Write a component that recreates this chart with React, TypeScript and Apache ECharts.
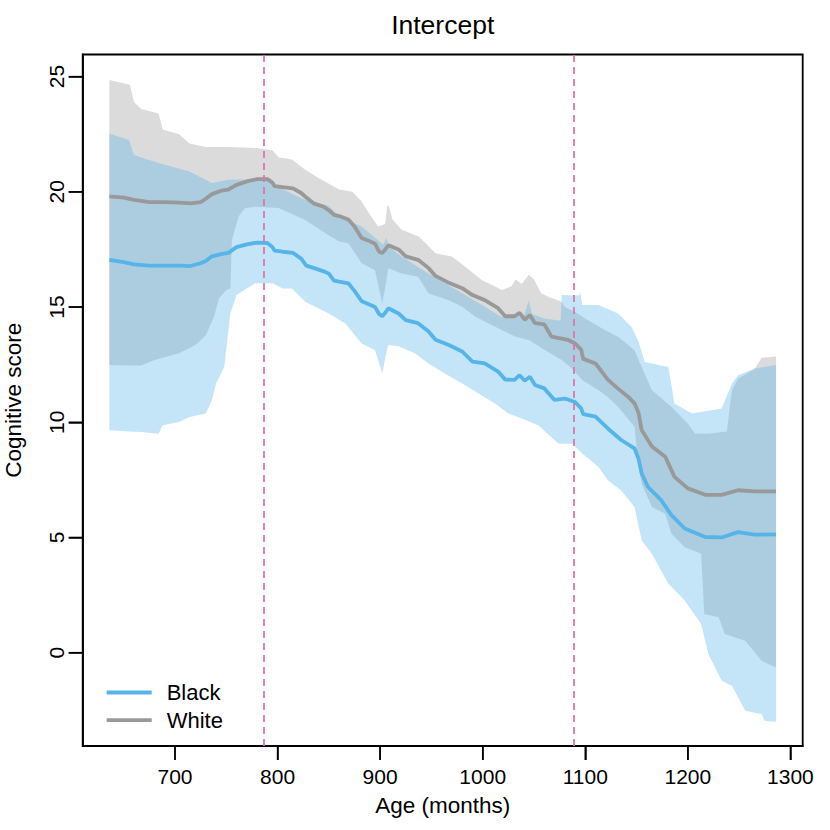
import React, { useEffect, useRef } from "react";
import * as echarts from "echarts";

type P = [number, number];

const X_MIN = 610;
const X_MAX = 1312;
const Y_MIN = -4.05;
const Y_MAX = 25.96;
const xTicks = [700, 800, 900, 1000, 1100, 1200, 1300];
const yTicks = [0, 5, 10, 15, 20, 25];
const cutAges = [786.5, 1089];

const blackMean: P[] = [
  [636, 17.05], [650, 16.95], [660, 16.85], [675, 16.8], [690, 16.8], [705, 16.8], [715, 16.78],
  [725, 16.9], [730, 17.0], [736, 17.2], [745, 17.3], [752, 17.35], [760, 17.6], [770, 17.72],
  [780, 17.8], [790, 17.78], [795, 17.6], [797, 17.45], [805, 17.4], [815, 17.35], [823, 17.1],
  [828, 16.8], [835, 16.7], [845, 16.55], [850, 16.45], [855, 16.15], [860, 16.1], [869, 16.03],
  [875, 15.7], [882, 15.25], [890, 15.1], [895, 15.0], [899, 14.7], [902, 14.6], [905, 14.75],
  [908, 14.95], [918, 14.72], [925, 14.43], [937, 14.3], [947, 13.95], [954, 13.58], [967, 13.35],
  [980, 13.07], [990, 12.63], [1002, 12.56], [1015, 12.2], [1022, 11.85], [1031, 11.84],
  [1036, 12.04], [1041, 11.8], [1046, 11.98], [1051, 11.62], [1060, 11.47], [1070, 10.97],
  [1080, 11.03], [1090, 10.88], [1096, 10.6], [1098, 10.35], [1110, 10.24], [1122, 9.73],
  [1135, 9.23], [1148, 8.87], [1152, 8.4], [1155, 7.78], [1161, 7.2], [1174, 6.62], [1184, 5.97],
  [1197, 5.39], [1217, 5.02], [1233, 5.0], [1249, 5.23], [1265, 5.12], [1286, 5.13],
];

const whiteMean: P[] = [
  [636, 19.8], [650, 19.75], [660, 19.65], [675, 19.55], [690, 19.55], [705, 19.53], [715, 19.5],
  [725, 19.55], [730, 19.7], [736, 19.9], [745, 20.05], [752, 20.1], [760, 20.3], [770, 20.45],
  [780, 20.55], [790, 20.55], [795, 20.4], [797, 20.25], [805, 20.2], [815, 20.15], [823, 19.95],
  [828, 19.75], [835, 19.5], [845, 19.35], [850, 19.2], [855, 19.0], [860, 18.95], [869, 18.8],
  [875, 18.5], [882, 18.0], [890, 17.85], [895, 17.75], [899, 17.4], [902, 17.35], [905, 17.5],
  [908, 17.68], [918, 17.5], [925, 17.2], [937, 17.05], [947, 16.7], [954, 16.35], [967, 16.05],
  [980, 15.82], [990, 15.52], [1002, 15.3], [1015, 14.95], [1022, 14.6], [1031, 14.6],
  [1036, 14.75], [1041, 14.45], [1046, 14.65], [1051, 14.3], [1060, 14.25], [1067, 13.72],
  [1083, 13.58], [1090, 13.42], [1096, 13.15], [1098, 12.75], [1110, 12.55], [1122, 11.85],
  [1132, 11.46], [1142, 11.1], [1148, 10.82], [1152, 10.4], [1155, 9.66], [1165, 8.95],
  [1178, 8.5], [1187, 7.63], [1200, 7.13], [1217, 6.85], [1233, 6.85], [1249, 7.05],
  [1265, 7.0], [1286, 7.0],
];

const whiteUpper: P[] = [
  [636, 24.85], [656, 24.65], [660, 23.9], [667, 23.6], [684, 23.4], [688, 22.7], [704, 22.5],
  [714, 22.1], [730, 21.95], [753, 21.95], [779, 21.9], [795, 21.8], [801, 21.5], [814, 21.4],
  [827, 20.96], [840, 20.6], [850, 20.35], [860, 20.1], [873, 20.0], [882, 19.58], [890, 19.0],
  [898, 18.5], [905, 18.6], [907, 19.45], [909, 19.3], [912, 18.8], [921, 18.35], [938, 18.05],
  [954, 17.33], [970, 17.19], [983, 16.75], [999, 16.17], [1019, 15.74], [1028, 15.9],
  [1032, 16.2], [1038, 16.0], [1045, 16.4], [1050, 16.2], [1057, 15.6], [1064, 15.45],
  [1077, 15.23], [1080, 15.0], [1090, 14.8], [1097, 14.58], [1119, 14.0], [1132, 13.71],
  [1148, 13.13], [1155, 12.4], [1165, 11.39], [1184, 10.67], [1200, 9.94], [1207, 9.51],
  [1220, 9.5], [1238, 9.6], [1243, 11.4], [1249, 11.9], [1265, 12.3], [1272, 12.8], [1286, 12.85],
];

const whiteLower: P[] = [
  [636, 12.48], [655, 12.46], [667, 12.46], [680, 12.7], [704, 12.99], [720, 13.35], [730, 13.78],
  [738, 14.58], [743, 15.38], [750, 15.74], [754, 15.8], [755.5, 17.91], [762, 18.93], [768, 19.29],
  [778, 19.35], [801, 19.3], [827, 18.78], [850, 18.1], [860, 17.84], [869, 17.77], [882, 16.9],
  [895, 16.6], [902, 15.16], [904, 15.6], [908, 16.68], [921, 16.46], [937, 16.32], [947, 15.6],
  [967, 15.3], [980, 15.01], [993, 14.58], [1012, 14.14], [1032, 13.71], [1045, 13.57],
  [1061, 13.13], [1077, 12.7], [1087, 12.33], [1097, 11.83], [1113, 11.39], [1122, 11.1],
  [1132, 10.67], [1148, 9.8], [1152, 8.06], [1155, 7.33], [1165, 6.32], [1178, 6.03],
  [1184, 5.16], [1197, 4.58], [1213, 4.29], [1216, 1.68], [1230, 1.54], [1236, 0.81],
  [1256, 0.52], [1272, -0.35], [1286, -0.64],
];

const blackUpper: P[] = [
  [636, 22.52], [655, 22.26], [660, 21.6], [684, 21.25], [714, 20.88], [736, 20.38], [752, 20.52],
  [775, 20.55], [790, 20.5], [801, 20.2], [827, 19.65], [850, 19.4], [860, 18.93], [882, 18.5],
  [898, 17.9], [903, 17.7], [906, 18.0], [909, 17.6], [921, 17.19], [947, 16.46], [980, 15.6],
  [1002, 15.01], [1018, 14.58], [1040, 14.6], [1045, 15.3], [1048, 14.7], [1060, 14.5],
  [1076, 14.4], [1077, 15.52], [1094, 15.5], [1095, 15.67], [1097, 15.09], [1113, 15.09],
  [1132, 14.72], [1145, 14.14], [1152, 13.49], [1158, 12.62], [1181, 12.4], [1187, 10.81],
  [1204, 10.38], [1233, 10.6], [1243, 11.68], [1249, 12.04], [1265, 12.33], [1286, 12.48],
];

const blackLower: P[] = [
  [636, 9.65], [655, 9.6], [667, 9.58], [684, 9.5], [688, 9.87], [704, 10.01], [714, 10.23],
  [730, 10.38], [736, 10.96], [740, 11.68], [748, 12.4], [754, 14.72], [760, 15.52], [778, 16.03],
  [795, 16.03], [805, 15.81], [814, 15.8], [827, 15.23], [850, 14.72], [866, 14.29], [882, 13.42],
  [895, 13.13], [902, 12.12], [906, 13.0], [908, 13.35], [918, 13.3], [934, 12.99], [947, 12.55],
  [963, 12.12], [980, 11.68], [996, 11.25], [1012, 10.81], [1025, 10.38], [1038, 10.16],
  [1054, 9.87], [1074, 9.07], [1087, 9.07], [1097, 8.64], [1113, 8.06], [1122, 7.48],
  [1135, 7.04], [1148, 6.32], [1155, 4.87], [1165, 4.29], [1181, 2.99], [1197, 2.26],
  [1213, 1.25], [1220, -0.06], [1233, -1.22], [1243, -1.43], [1256, -2.52], [1272, -2.67],
  [1275, -2.96], [1286, -3.0],
];

const BLUE = "#56B4E9";
const GRAY = "#999999";
const PINK = "#DD77AA";
const FONT = "'Liberation Sans', Arial, sans-serif";
const TICK_LEN = 14;
const TICK_W = 1.5;

function band(name: string, lower: P[], upper: P[], fill: string, z: number) {
  return {
    type: "custom",
    name,
    coordinateSystem: "cartesian2d",
    silent: true,
    clip: false,
    z,
    data: [lower[0]],
    renderItem: (params: any, api: any) => {
      if (params.dataIndex !== 0) return null;
      const pts = lower
        .map((p) => api.coord(p))
        .concat(upper.slice().reverse().map((p) => api.coord(p)));
      return { type: "polygon", shape: { points: pts }, style: { fill } };
    },
  };
}

export default function App() {
  const ref = useRef<HTMLDivElement>(null);
  useEffect(() => {
    if (!ref.current) return;
    const chart = echarts.init(ref.current, undefined, { renderer: "svg" });
    const titleGraphic = {
      id: "title",
      type: "text",
      x: 442.7,
      y: 25,
      style: {
        text: "Intercept",
        align: "center",
        verticalAlign: "middle",
        fontSize: 26.5,
        fontFamily: FONT,
        fill: "#000",
      },
    };
    const tickCfg = (values: number[]) => ({
      show: true,
      inside: false,
      length: TICK_LEN,
      lineStyle: { color: "#000", width: TICK_W },
      customValues: values,
    });
    const option: any = {
      animation: false,
      textStyle: { fontFamily: FONT, color: "#000" },
      grid: {
        left: 82.7,
        right: 27.3,
        top: 54.5,
        bottom: 84,
        containLabel: false,
        outerBoundsMode: "none",
        show: true,
        borderColor: "#000",
        borderWidth: 1.8,
        backgroundColor: "transparent",
      },
      graphic: [titleGraphic],
      legend: {
        data: ["Black", "White"],
        orient: "vertical",
        left: 101.7,
        top: 676.5,
        icon: "rect",
        itemWidth: 45,
        itemHeight: 3.8,
        itemGap: 5.6,
        selectedMode: false,
        textStyle: { fontSize: 22, lineHeight: 22, color: "#000", fontFamily: FONT, padding: [0, 0, 0, 10] },
      },
      xAxis: {
        type: "value",
        position: "bottom",
        min: X_MIN,
        max: X_MAX,
        axisLine: { show: true, onZero: false, lineStyle: { color: "#000", width: 1.8 } },
        splitLine: { show: false },
        axisTick: tickCfg(xTicks),
        axisLabel: {
          customValues: xTicks,
          fontSize: 21,
          color: "#000",
          margin: 20,
          fontFamily: FONT,
          formatter: (v: number) => String(v),
        },
        name: "Age (months)",
        nameLocation: "middle",
        nameGap: 48,
        nameTextStyle: { fontSize: 22.5, color: "#000", fontFamily: FONT },
      },
      yAxis: {
        type: "value",
        position: "left",
        min: Y_MIN,
        max: Y_MAX,
        axisLine: { show: true, onZero: false, lineStyle: { color: "#000", width: 1.8 } },
        splitLine: { show: false },
        axisTick: tickCfg(yTicks),
        axisLabel: {
          customValues: yTicks,
          fontSize: 21,
          color: "#000",
          margin: 16,
          rotate: 90,
          fontFamily: FONT,
          formatter: (v: number) => String(v),
        },
        name: "Cognitive score",
        nameLocation: "middle",
        nameGap: 58,
        nameTextStyle: { fontSize: 22.5, color: "#000", fontFamily: FONT },
      },
      series: [
        band("White band", whiteLower, whiteUpper, "rgba(153,153,153,0.35)", 1),
        band("Black band", blackLower, blackUpper, "rgba(86,180,233,0.35)", 2),
        {
          type: "line",
          name: "White",
          data: whiteMean,
          showSymbol: false,
          symbol: "none",
          clip: false,
          color: GRAY,
          lineStyle: { color: GRAY, width: 3.8 },
          z: 3,
        },
        {
          type: "line",
          name: "Black",
          data: blackMean,
          showSymbol: false,
          symbol: "none",
          clip: false,
          color: BLUE,
          lineStyle: { color: BLUE, width: 3.8 },
          z: 4,
          markLine: {
            silent: true,
            symbol: "none",
            label: { show: false },
            lineStyle: { color: PINK, type: [7, 5], width: 1.8 },
            data: cutAges.map((a) => ({ xAxis: a })),
          },
        },
      ],
    };
    chart.setOption(option);

    // Tick marks positioned through the chart's own scales.
    const ticks: any[] = [];
    xTicks.forEach((v, i) => {
      const p = chart.convertToPixel({ gridIndex: 0 }, [v, Y_MIN]) as number[];
      ticks.push({
        id: "xt" + i,
        type: "rect",
        z: 50,
        silent: true,
        shape: { x: p[0] - TICK_W / 2, y: p[1], width: TICK_W, height: TICK_LEN },
        style: { fill: "#000" },
      });
    });
    yTicks.forEach((v, i) => {
      const p = chart.convertToPixel({ gridIndex: 0 }, [X_MIN, v]) as number[];
      ticks.push({
        id: "yt" + i,
        type: "rect",
        z: 50,
        silent: true,
        shape: { x: p[0] - TICK_LEN, y: p[1] - TICK_W / 2, width: TICK_LEN, height: TICK_W },
        style: { fill: "#000" },
      });
    });
    chart.setOption({ graphic: [titleGraphic, ...ticks] });
    return () => chart.dispose();
  }, []);
  return <div ref={ref} style={{ position: "absolute", left: 0, top: 0, width: 830, height: 830 }} />;
}
